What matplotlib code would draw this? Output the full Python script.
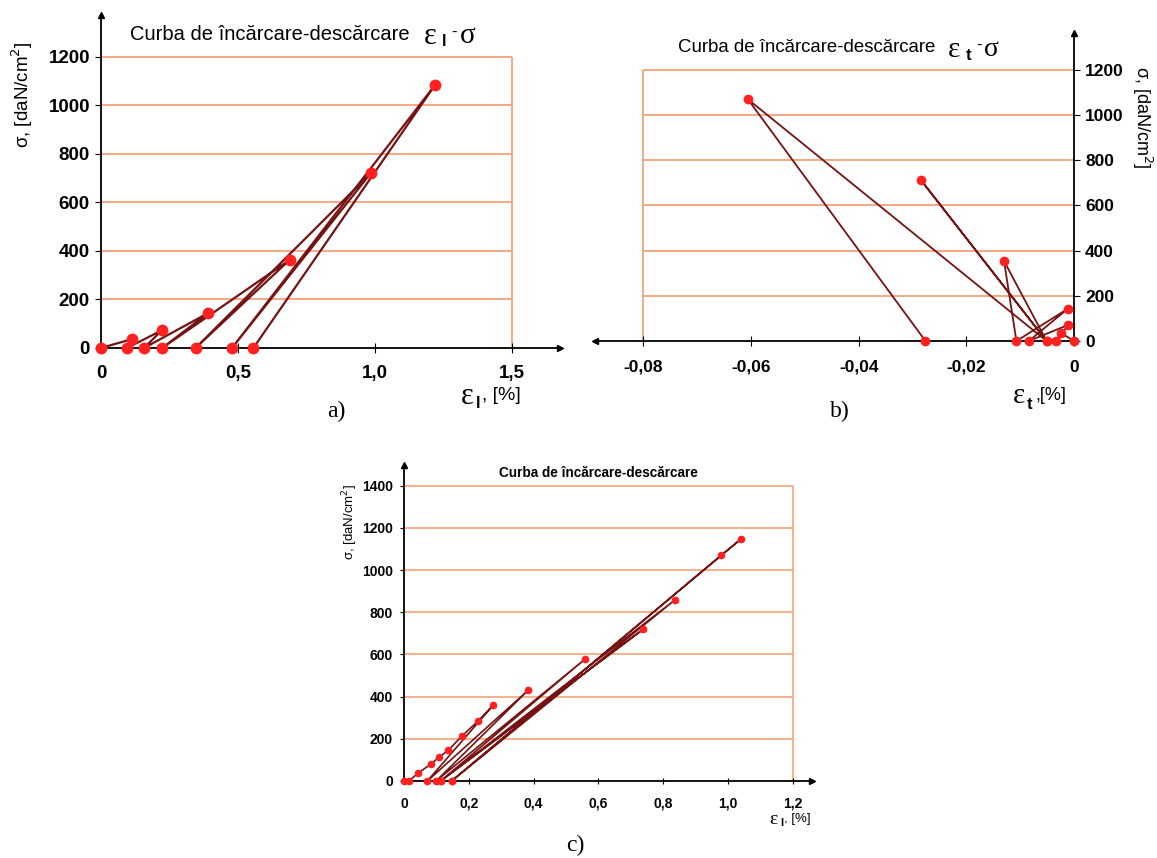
import numpy as np
import matplotlib
matplotlib.use('Agg')
import matplotlib.pyplot as plt

plt.rcParams['font.family'] = ['Liberation Sans', 'DejaVu Sans']

# a) longitudinal strain vs stress (loading-unloading cycles)
eps_l_a = [0, 0.114, 0.095, 0.222, 0.157, 0.391, 0.223, 0.688, 0.345, 0.984, 0.478, 1.22, 0.556]
sig_a = [0, 37, 0, 73, 0, 144, 0, 363, 0, 720, 0, 1086, 0]

# b) transverse strain vs stress
eps_t_b = [0, -0.0025, -0.0033, -0.0011, -0.0084, -0.0012, -0.0107, -0.0130, -0.0051,
           -0.0285, -0.0051, -0.0606, -0.0276]
sig_b = [0, 37, 0, 71, 0, 142, 0, 354, 0, 714, 0, 1070, 0]

# c) longitudinal strain vs stress, second specimen
eps_l_c = [0, 0.015, 0.044, 0.082, 0.109, 0.137, 0.178, 0.229, 0.275, 0.072, 0.383, 0.099,
           0.558, 0.113, 0.738, 0.113, 0.835, 0.147, 0.979, 1.040, 0.147]
sig_c = [0, 0, 38, 79, 114, 146, 212, 285, 359, 0, 430, 0, 577, 0, 719, 0, 857, 0, 1071, 1147, 0]

W, H = 1157, 858
line_c = '#761212'
mark_c = '#ff2020'
grid_c = '#f6a37a'

fig = plt.figure(figsize=(W / 100, H / 100), dpi=100)


def T(x, y, s, **kw):
    kw.setdefault('va', 'center')
    kw.setdefault('ha', 'left')
    fig.text(x / W, 1 - y / H, s, **kw)


def box(l, r, b, t):
    return [l / W, 1 - b / H, (r - l) / W, (b - t) / H]


# ---- panel a
ax = fig.add_axes(box(101, 560, 348, 15))
ax.set_xlim(0, 1.675)
ax.set_ylim(0, 1373)
yt = np.arange(0, 1201, 200)
ax.hlines(yt[1:], 0, 1.5, color=grid_c, lw=1.3, zorder=0)
ax.vlines(1.5, 0, 1200, color=grid_c, lw=1.3, zorder=0)
ax.plot(eps_l_a, sig_a, color=line_c, lw=1.6, marker='o', ms=7.5,
        mfc=mark_c, mec=mark_c, clip_on=False, zorder=3)
ax.spines[['top', 'right']].set_visible(False)
ax.spines[['left', 'bottom']].set_linewidth(1.3)
ax.plot(1, 0, '>k', ms=5, transform=ax.transAxes, clip_on=False)
ax.plot(0, 1, '^k', ms=5, transform=ax.transAxes, clip_on=False)
ax.set_xticks([0, 0.5, 1.0, 1.5], ['0', '0,5', '1,0', '1,5'])
ax.set_yticks(yt)
ax.tick_params(axis='x', direction='inout', length=7, pad=9, labelsize=13.5)
ax.tick_params(axis='y', direction='out', length=4, pad=4, labelsize=13.5)
for lab in ax.get_xticklabels() + ax.get_yticklabels():
    lab.set_fontweight('bold')

T(130, 35, 'Curba de încărcare-descărcare', fontsize=14.5)
T(424, 36, 'ε', fontsize=22, family='Liberation Serif')
T(442, 42, 'l', fontsize=12, fontweight='bold')
T(451, 32, '-', fontsize=12)
T(460, 36, 'σ', fontsize=21, family='Liberation Serif')
T(22, 95, 'σ, [daN/cm$^2$]', fontsize=13.5, rotation=90, ha='center')
T(461, 396, 'ε', fontsize=22, family='Liberation Serif')
T(476, 403, 'l', fontsize=12, fontweight='bold')
T(482, 395, ', [%]', fontsize=14)
T(336, 411, 'a)', fontsize=17, family='Liberation Serif', ha='center')

# ---- panel b
ax = fig.add_axes(box(595, 1074, 341, 33))
ax.set_xlim(-0.089, 0)
ax.set_ylim(0, 1363)
ax.hlines(yt[1:], -0.08, 0, color=grid_c, lw=1.3, zorder=0)
ax.vlines(-0.08, 0, 1200, color=grid_c, lw=1.3, zorder=0)
ax.plot(eps_t_b, sig_b, color=line_c, lw=1.3, marker='o', ms=6,
        mfc=mark_c, mec=mark_c, clip_on=False, zorder=3)
ax.spines[['top', 'left']].set_visible(False)
ax.spines[['right', 'bottom']].set_linewidth(1.3)
ax.plot(0, 0, '<k', ms=5, transform=ax.transAxes, clip_on=False)
ax.plot(1, 1, '^k', ms=5, transform=ax.transAxes, clip_on=False)
ax.yaxis.tick_right()
ax.set_xticks([-0.08, -0.06, -0.04, -0.02, 0], ['-0,08', '-0,06', '-0,04', '-0,02', '0'])
ax.set_yticks(yt)
ax.tick_params(axis='x', direction='inout', length=7, pad=10, labelsize=12.5)
ax.tick_params(axis='y', direction='out', length=4, pad=4, labelsize=12.5)
for lab in ax.get_xticklabels() + ax.get_yticklabels():
    lab.set_fontweight('bold')

T(678, 48, 'Curba de încărcare-descărcare', fontsize=13.4)
T(948, 50, 'ε', fontsize=21, family='Liberation Serif')
T(966, 55, 't', fontsize=12, fontweight='bold')
T(976, 45, '-', fontsize=12)
T(984, 49, 'σ', fontsize=20, family='Liberation Serif')
T(1142, 117, 'σ, [daN/cm$^2$]', fontsize=13, rotation=270, ha='center')
T(1013, 396, 'ε', fontsize=21, family='Liberation Serif')
T(1027, 404, 't', fontsize=12, fontweight='bold')
T(1035, 396, ',[%]', fontsize=13)
T(840, 411, 'b)', fontsize=17, family='Liberation Serif', ha='center')

# ---- panel c
ax = fig.add_axes(box(404, 812, 781, 465))
ax.set_xlim(0, 1.259)
ax.set_ylim(0, 1498)
ytc = np.arange(0, 1401, 200)
ax.hlines(ytc[1:], 0, 1.2, color=grid_c, lw=1.2, zorder=0)
ax.vlines(1.2, 0, 1400, color=grid_c, lw=1.2, zorder=0)
ax.plot(eps_l_c, sig_c, color=line_c, lw=1.2, marker='o', ms=4.5,
        mfc=mark_c, mec=mark_c, clip_on=False, zorder=3)
ax.spines[['top', 'right']].set_visible(False)
ax.spines[['left', 'bottom']].set_linewidth(1.3)
ax.plot(1, 0, '>k', ms=4, transform=ax.transAxes, clip_on=False)
ax.plot(0, 1, '^k', ms=4, transform=ax.transAxes, clip_on=False)
ax.set_xticks(np.arange(0, 1.21, 0.2), ['0', '0,2', '0,4', '0,6', '0,8', '1,0', '1,2'])
ax.set_yticks(ytc)
ax.tick_params(axis='x', direction='inout', length=5, pad=9, labelsize=10)
ax.tick_params(axis='y', direction='out', length=3, pad=5, labelsize=10)
for lab in ax.get_xticklabels() + ax.get_yticklabels():
    lab.set_fontweight('bold')

T(598, 473, 'Curba de încărcare-descărcare', fontsize=9.8, fontweight='bold', ha='center')
T(350, 522, 'σ, [daN/cm$^2$]', fontsize=9.5, rotation=90, ha='center')
T(769, 819, 'ε', fontsize=14, family='Liberation Serif')
T(780, 823, 'l', fontsize=8, fontweight='bold')
T(784, 819, ', [%]', fontsize=9.5)
T(575, 845, 'c)', fontsize=17, family='Liberation Serif', ha='center')

fig.savefig('out.png', dpi=100)
